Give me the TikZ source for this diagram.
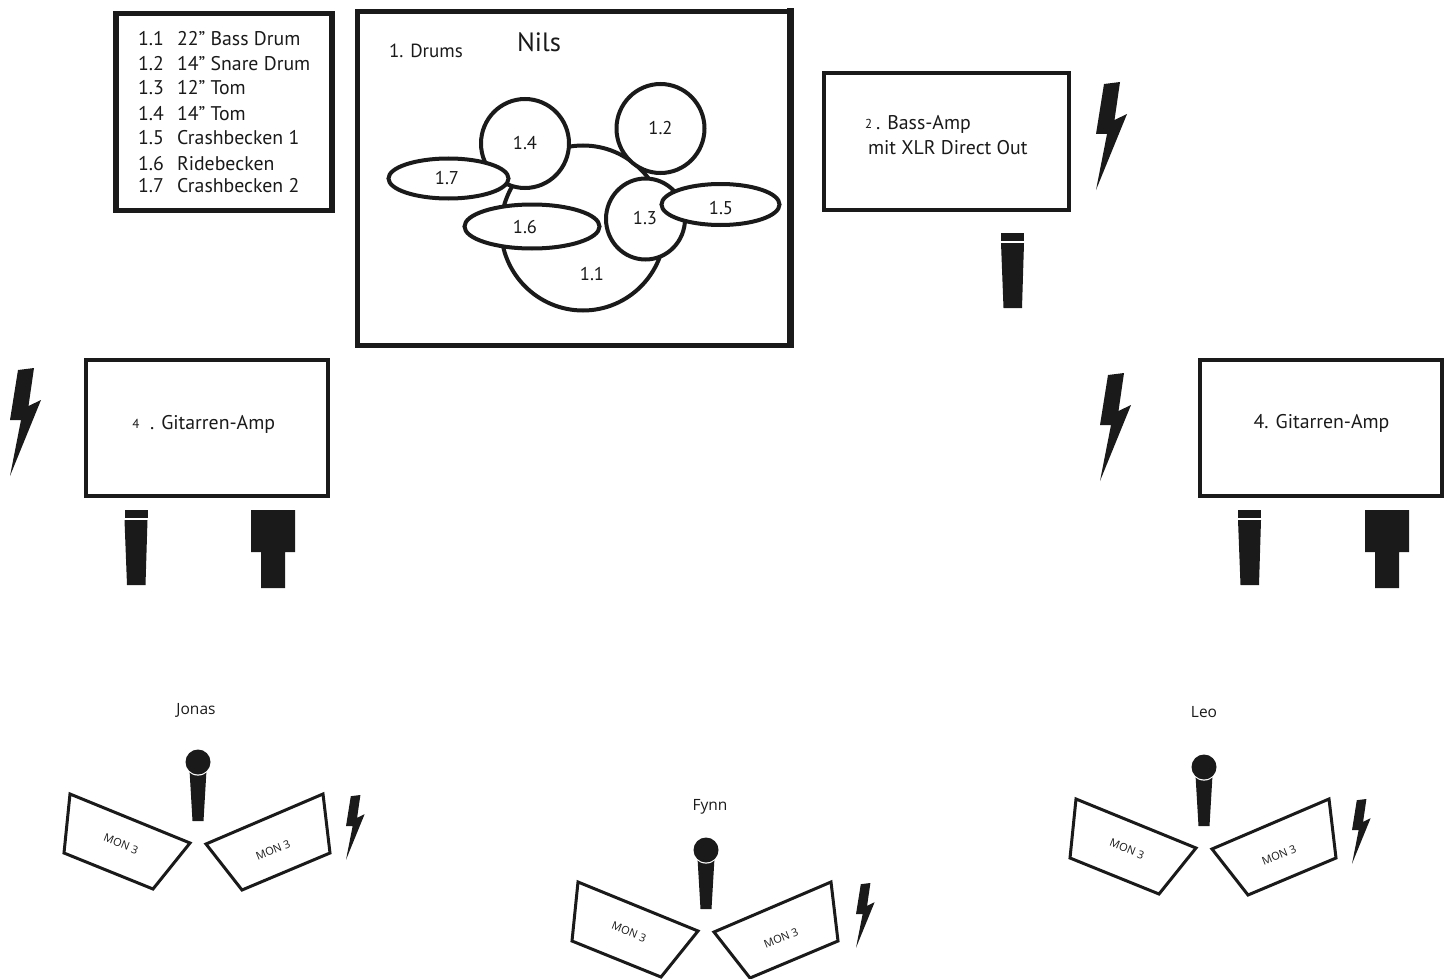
\documentclass[tikz,border=0pt]{standalone}
\usepackage{fontspec}
\setmainfont{PT Sans}
\newfontfamily\namefont{Open Sans}
\usetikzlibrary{shapes.geometric}
\definecolor{ink}{HTML}{1A1A1A}
\tikzset{
  x=1pt,y=-1pt,
  framebox/.style={draw=ink,line width=4.5pt,fill=white,rectangle,inner sep=0pt,outer sep=0pt},
  drum/.style={draw=ink,line width=4pt,fill=white,ellipse,inner sep=0pt,outer sep=0pt,font=\fontsize{18.5}{20}\selectfont,text=ink},
  txt/.style={inner sep=0pt,outer sep=0pt,text=ink},
  legend/.style={txt,anchor=base west,font=\fontsize{19.8}{22}\selectfont},
  amptext/.style={txt,font=\fontsize{19.8}{22}\selectfont},
  nametext/.style={txt,font=\namefont\fontsize{15.5}{17}\selectfont},
  montext/.style={txt,font=\namefont\fontsize{11}{12}\selectfont},
  bolt/.pic={\fill[ink] (8,2) -- (24,0) -- (18.5,38) -- (31,32) -- (0,108) -- (11,52) -- (0,52) -- cycle;},
  monomic/.pic={\fill[ink] (0,0) rectangle (23,8);
     \fill[ink] (0,10) -- (23,10) -- (21,75) -- (2.5,75) -- cycle;},
  dibox/.pic={\fill[ink] (0,0) -- (44,0) -- (44,42) -- (34,42) -- (34,78) -- (10,78) -- (10,42) -- (0,42) -- cycle;},
  vocal/.pic={\fill[ink] (-8.5,8) -- (8.5,8) -- (5.5,59) -- (-5.5,59) -- cycle;
     \fill[white] (0,0) circle[radius=13.6];
     \fill[ink] (0,0) circle[radius=12.5];},
  leftmon/.pic={\draw[ink,line width=3pt,fill=white,line join=miter] (-128,32) -- (-8,81) -- (-45,127) -- (-134,91) -- cycle;
     \node[montext,rotate=-22] (-txt) at (-77,82) {MON 3};},
  rightmon/.pic={\draw[ink,line width=3pt,fill=white,line join=miter] (125,32) -- (8,82) -- (44,128) -- (132,91) -- cycle;
     \node[montext,rotate=22] (-txt) at (75,88) {MON 3};},
}
\begin{document}
\begin{tikzpicture}
\useasboundingbox (0,0) rectangle (1451,979);
\fill[white] (0,0) rectangle (1451,979);

% legend box
\node[framebox,line width=5.5pt,minimum width=216pt,minimum height=197pt] (legendbox) at (224,112) {};
\foreach \n/\t/\y in {1.1/22" Bass Drum/46,1.2/14" Snare Drum/71,1.3/12" Tom/95,1.4/14" Tom/121,1.5/Crashbecken 1/145,1.6/Ridebecken/170,1.7/Crashbecken 2/193}{
  \node[legend] (n\n) at (138,\y) {\n};
  \node[legend] (t\n) at (177,\y) {\t};
}

% drum box
\node[framebox,minimum width=433pt,minimum height=334pt] (drumbox) at (574,178.5) {};
\fill[ink] (787,8) rectangle (794,348);
\node[txt,font=\fontsize{19}{20}\selectfont] (drumstitle) at (426,51) {1. Drums};
\node[txt,font=\fontsize{26.5}{28}\selectfont] (nils) at (539,42) {Nils};

\node[drum,minimum width=164pt,minimum height=165pt] (d11) at (583,228) {};
\node[drum,minimum width=88pt,minimum height=89pt] (d12) at (660.5,128.5) {1.2};
\node[drum,minimum width=88pt,minimum height=89pt] (d14) at (525,143.5) {1.4};
\node[drum,minimum width=120pt,minimum height=40pt] (d17) at (448.5,178.5) {};
\node[drum,minimum width=135pt,minimum height=44pt] (d16) at (532,226.5) {};
\node[drum,minimum width=79pt,minimum height=81pt] (d13) at (645.5,219) {};
\node[drum,minimum width=118pt,minimum height=41pt] (d15) at (720.5,204.5) {};
\foreach \t/\p in {1.1/{592,274},1.6/{525,227},1.3/{645,218},1.5/{721,208},1.7/{447,178}}{
  \node[txt,font=\fontsize{18.5}{20}\selectfont] (l\t) at (\p) {\t};
}

% bass amp
\node[framebox,minimum width=245pt,minimum height=137pt] (bassamp) at (946.5,141.5) {};
\node[txt,font=\fontsize{13}{14}\selectfont,anchor=base west] (bassnum) at (865,129) {2};
\node[amptext,anchor=base west] (basstext) at (876,130) {. Bass-Amp};
\node[amptext,anchor=base west] (basstext2) at (868,154) {mit XLR Direct Out};
\pic (boltbass) at (1096,82) {bolt};
\pic (micbass) at (1001,233) {monomic};

% left guitar amp
\node[framebox,minimum width=242pt,minimum height=136pt] (leftamp) at (207,428) {};
\node[txt,font=\fontsize{13}{14}\selectfont] (leftnum) at (136,424) {4};
\node[amptext,anchor=base west] (lefttext) at (150,429) {. Gitarren-Amp};
\pic (boltleft) at (10,368) {bolt};
\pic (micleft) at (124.5,510) {monomic};
\pic (dileft) at (251,510) {dibox};

% right guitar amp
\node[framebox,minimum width=242pt,minimum height=136pt] (rightamp) at (1321,428) {};
\node[amptext] (righttext) at (1321.5,423) {4. Gitarren-Amp};
\pic (boltright) at (1100,373) {bolt};
\pic (micright) at (1238,510) {monomic};
\pic (diright) at (1365,510) {dibox};

% performers
\node[nametext] (jonas) at (196,710) {Jonas};
\pic (mj) at (198,762) {vocal};
\pic (mjl) at (198,762) {leftmon};
\pic (mjr) at (198,762) {rightmon};
\pic[scale=0.6] (bj) at (346,795) {bolt};

\node[nametext] (fynn) at (710,807) {Fynn};
\pic (mf) at (706,850) {vocal};
\pic (mfl) at (706,850) {leftmon};
\pic (mfr) at (706,850) {rightmon};
\pic[scale=0.6] (bf) at (856,883) {bolt};

\node[nametext] (leo) at (1204,712) {Leo};
\pic (ml) at (1204,767) {vocal};
\pic (mll) at (1204,767) {leftmon};
\pic (mlr) at (1204,767) {rightmon};
\pic[scale=0.6] (bl) at (1352,799) {bolt};
\end{tikzpicture}
\end{document}
